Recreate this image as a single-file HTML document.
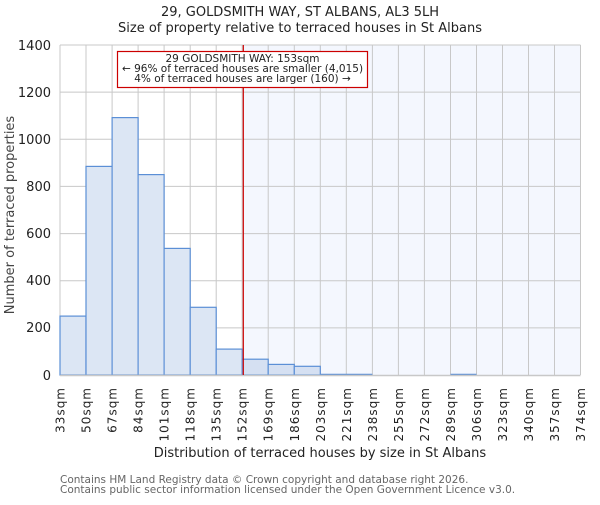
<!DOCTYPE html>
<html><head><meta charset="utf-8"><style>
body{margin:0;background:#fff;}
text{font-family:"DejaVu Sans","Liberation Sans",sans-serif;}
</style></head><body>
<svg width="600" height="500" viewBox="0 0 600 500" xmlns="http://www.w3.org/2000/svg">
<rect width="600" height="500" fill="#fff"/>
<text x="300" y="16" font-size="13" text-anchor="middle" fill="#222">29, GOLDSMITH WAY, ST ALBANS, AL3 5LH</text>
<text x="300" y="32" font-size="13" text-anchor="middle" fill="#222">Size of property relative to terraced houses in St Albans</text>
<rect x="243" y="45" width="337.5" height="330" fill="#f4f7fe"/>
<g stroke="#c8c8c8" stroke-width="1">
<line x1="60" y1="45" x2="580.5" y2="45"/><line x1="60" y1="92.1" x2="580.5" y2="92.1"/>
<line x1="60" y1="139.3" x2="580.5" y2="139.3"/><line x1="60" y1="186.4" x2="580.5" y2="186.4"/>
<line x1="60" y1="233.6" x2="580.5" y2="233.6"/><line x1="60" y1="280.7" x2="580.5" y2="280.7"/>
<line x1="60" y1="327.9" x2="580.5" y2="327.9"/>
<line x1="60" y1="45" x2="60" y2="375"/><line x1="86" y1="45" x2="86" y2="375"/><line x1="112.1" y1="45" x2="112.1" y2="375"/><line x1="138.1" y1="45" x2="138.1" y2="375"/><line x1="164.1" y1="45" x2="164.1" y2="375"/><line x1="190.2" y1="45" x2="190.2" y2="375"/><line x1="216.2" y1="45" x2="216.2" y2="375"/><line x1="242.2" y1="45" x2="242.2" y2="375"/><line x1="268.2" y1="45" x2="268.2" y2="375"/><line x1="294.3" y1="45" x2="294.3" y2="375"/><line x1="320.3" y1="45" x2="320.3" y2="375"/><line x1="346.3" y1="45" x2="346.3" y2="375"/><line x1="372.4" y1="45" x2="372.4" y2="375"/><line x1="398.4" y1="45" x2="398.4" y2="375"/><line x1="424.4" y1="45" x2="424.4" y2="375"/><line x1="450.5" y1="45" x2="450.5" y2="375"/><line x1="476.5" y1="45" x2="476.5" y2="375"/><line x1="502.5" y1="45" x2="502.5" y2="375"/><line x1="528.5" y1="45" x2="528.5" y2="375"/><line x1="554.5" y1="45" x2="554.5" y2="375"/><line x1="580.5" y1="45" x2="580.5" y2="375"/>
</g>
<g stroke="#5b8fd6" stroke-width="1.2" fill="#dce6f4">
<rect x="60" y="316.1" width="26" height="58.9"/>
<rect x="86" y="166.4" width="26.1" height="208.6"/>
<rect x="112.1" y="117.6" width="26" height="257.4"/>
<rect x="138.1" y="174.6" width="26" height="200.4"/>
<rect x="164.1" y="248.4" width="26.1" height="126.6"/>
<rect x="190.2" y="307.3" width="26" height="67.7"/>
<rect x="216.2" y="349.1" width="26" height="25.9"/>
</g>
<g stroke="#5b8fd6" stroke-width="1.2" fill="#d5e0f2">
<rect x="242.2" y="359.2" width="26" height="15.8"/>
<rect x="268.2" y="364.4" width="26.1" height="10.6"/>
<rect x="294.3" y="366.3" width="26" height="8.7"/>
<line x1="320.3" y1="374.4" x2="372.4" y2="374.4"/>
<line x1="450.5" y1="374.4" x2="476.5" y2="374.4"/>
</g>
<line x1="60" y1="375.5" x2="580.5" y2="375.5" stroke="#c8c8c8" stroke-width="1.5"/>
<line x1="243.3" y1="45" x2="243.3" y2="375" stroke="#cc0000" stroke-width="1.2"/>
<rect x="117.5" y="51.5" width="250" height="36" fill="#fff" stroke="#cc0000" stroke-width="1.2"/>
<g font-size="10.5" text-anchor="middle" fill="#222">
<text x="242.5" y="62">29 GOLDSMITH WAY: 153sqm</text>
<text x="242.5" y="72">← 96% of terraced houses are smaller (4,015)</text>
<text x="242.5" y="82">4% of terraced houses are larger (160) →</text>
</g>
<g font-size="13" text-anchor="end" fill="#222">
<text x="51" y="50">1400</text><text x="51" y="97">1200</text><text x="51" y="144">1000</text>
<text x="51" y="191">800</text><text x="51" y="238">600</text><text x="51" y="285">400</text>
<text x="51" y="332">200</text><text x="51" y="380">0</text>
</g>
<text transform="translate(14,215) rotate(-90)" font-size="13" text-anchor="middle" fill="#444">Number of terraced properties</text>
<g font-size="12" text-anchor="end" fill="#222" letter-spacing="1">
<text transform="translate(64.5,387) rotate(-90)">33sqm</text>
<text transform="translate(90.5,387) rotate(-90)">50sqm</text>
<text transform="translate(116.6,387) rotate(-90)">67sqm</text>
<text transform="translate(142.6,387) rotate(-90)">84sqm</text>
<text transform="translate(168.6,387) rotate(-90)">101sqm</text>
<text transform="translate(194.7,387) rotate(-90)">118sqm</text>
<text transform="translate(220.7,387) rotate(-90)">135sqm</text>
<text transform="translate(246.7,387) rotate(-90)">152sqm</text>
<text transform="translate(272.7,387) rotate(-90)">169sqm</text>
<text transform="translate(298.8,387) rotate(-90)">186sqm</text>
<text transform="translate(324.8,387) rotate(-90)">203sqm</text>
<text transform="translate(350.8,387) rotate(-90)">221sqm</text>
<text transform="translate(376.9,387) rotate(-90)">238sqm</text>
<text transform="translate(402.9,387) rotate(-90)">255sqm</text>
<text transform="translate(428.9,387) rotate(-90)">272sqm</text>
<text transform="translate(455,387) rotate(-90)">289sqm</text>
<text transform="translate(481,387) rotate(-90)">306sqm</text>
<text transform="translate(507,387) rotate(-90)">323sqm</text>
<text transform="translate(533,387) rotate(-90)">340sqm</text>
<text transform="translate(559,387) rotate(-90)">357sqm</text>
<text transform="translate(585,387) rotate(-90)">374sqm</text>
</g>
<text x="320" y="457" font-size="13" text-anchor="middle" fill="#222">Distribution of terraced houses by size in St Albans</text>
<g font-size="10.5" fill="#666">
<text x="60" y="483">Contains HM Land Registry data © Crown copyright and database right 2026.</text>
<text x="60" y="493">Contains public sector information licensed under the Open Government Licence v3.0.</text>
</g>
</svg>
</body></html>
